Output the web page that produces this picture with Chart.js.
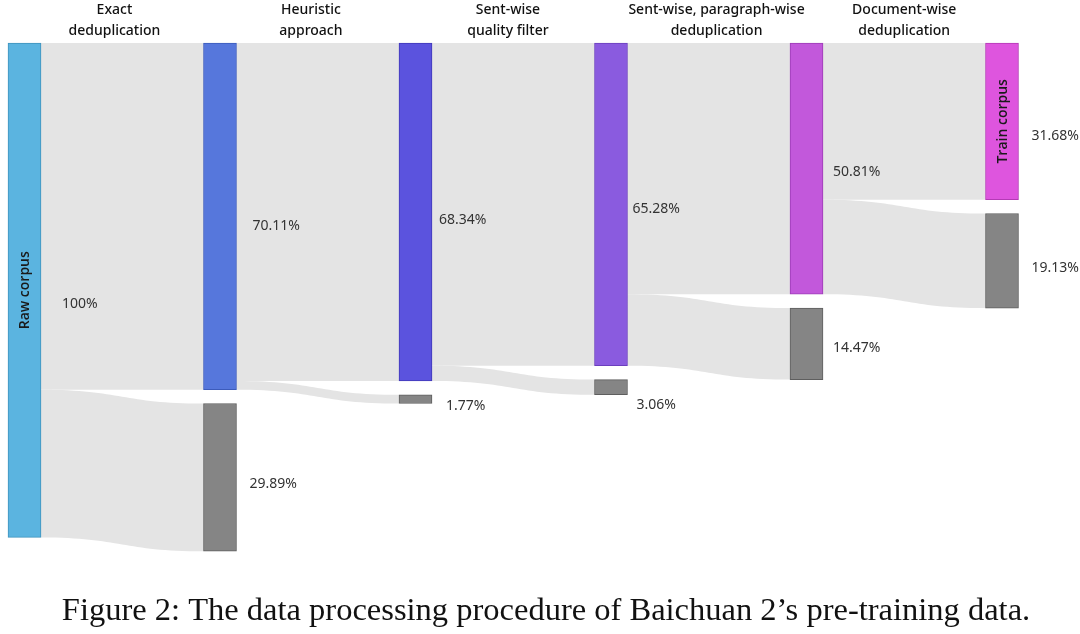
<!DOCTYPE html>
<html lang="en">
<head>
    <meta charset="UTF-8">
    <title>Baichuan 2 data processing - Sankey</title>
    <script src="https://cdn.jsdelivr.net/npm/chart.js"></script>
    <style>
        body { margin: 0; background: #ffffff; }
        #box { width: 1080px; height: 634px; position: relative; }
    </style>
</head>
<body>
    <div id="box"><canvas id="sankeyChart"></canvas></div>

    <script>
        // Data (share of raw corpus, %)
        const stageTitles = [
            ['Exact', 'deduplication'],
            ['Heuristic', 'approach'],
            ['Sent-wise', 'quality filter'],
            ['Sent-wise, paragraph-wise', 'deduplication'],
            ['Document-wise', 'deduplication']
        ];
        const keptNames = ['Raw corpus', '', '', '', '', 'Train corpus'];
        const keptShare = [100, 70.11, 68.34, 65.28, 50.81, 31.68];
        const removedShare = [null, 29.89, 1.77, 3.06, 14.47, 19.13];
        const caption = 'Figure 2: The data processing procedure of Baichuan 2\u2019s pre-training data.';

        // Styling / layout
        const keptColors = ['#5bb4e0', '#5677dc', '#5b53de', '#8a5bdf', '#c258db', '#de55de'];
        const keptBorders = ['#3f93bd', '#3c5bbb', '#4038b8', '#6b3fbd', '#9c3cb6', '#b43ab5'];
        const removedColor = '#858585';
        const removedBorder = '#5e5e5e';
        const flowColor = '#e4e4e4';
        const GAP = 2.8;          // gap between nodes of one column, in % units
        const HALF = 16.5;        // half node width, px
        const stageAt = [0.46, 1.465, 2.473, 3.54, 4.5];
        const keptDx = [21, 16, 7, 5, 10, 13];
        const keptDy = [14, 10, 8, 5, 3, 15];
        const removedDx = [0, 13, 14, 9, 10, 13];
        const removedDy = [0, 7, 7, 18, 4, 7];
        const labelFont = '14px "Noto Sans", sans-serif';

        const cols = keptShare.map((v, i) => i);
        const removedStart = cols.map(i => removedShare[i] == null ? null : keptShare[i] + GAP);

        const keptData = cols.map(i => ({ x: i, y: [0, keptShare[i]] }));
        const removedData = cols.filter(i => removedShare[i] != null)
            .map(i => ({ x: i, y: [removedStart[i], removedStart[i] + removedShare[i]] }));

        // links: [srcCol, srcFrom, srcTo, tgtCol, tgtFrom, tgtTo]
        const links = [];
        for (let i = 0; i < cols.length - 1; i++) {
            links.push([i, 0, keptShare[i + 1], i + 1, 0, keptShare[i + 1]]);
            links.push([i, keptShare[i + 1], keptShare[i], i + 1,
                removedStart[i + 1], removedStart[i + 1] + removedShare[i + 1]]);
        }

        const sankeyPlugin = {
            id: 'sankeyFlows',
            beforeDatasetsDraw(chart) {
                const { ctx, scales: { x, y } } = chart;
                ctx.save();
                ctx.fillStyle = flowColor;
                links.forEach(l => {
                    const x0 = x.getPixelForValue(l[0]) + HALF;
                    const x1 = x.getPixelForValue(l[3]) - HALF;
                    const xm = (x0 + x1) / 2;
                    const a0 = y.getPixelForValue(l[1]), b0 = y.getPixelForValue(l[2]);
                    const a1 = y.getPixelForValue(l[4]), b1 = y.getPixelForValue(l[5]);
                    ctx.beginPath();
                    ctx.moveTo(x0, a0);
                    ctx.bezierCurveTo(xm, a0, xm, a1, x1, a1);
                    ctx.lineTo(x1, b1);
                    ctx.bezierCurveTo(xm, b1, xm, b0, x0, b0);
                    ctx.closePath();
                    ctx.fill();
                });
                ctx.restore();
            },
            afterDatasetsDraw(chart) {
                const { ctx, scales: { x, y } } = chart;
                ctx.save();
                ctx.fillStyle = '#333333';
                ctx.font = labelFont;
                ctx.textBaseline = 'middle';
                ctx.textAlign = 'left';
                cols.forEach(i => {
                    const right = x.getPixelForValue(i) + HALF;
                    const yc = y.getPixelForValue(keptShare[i] / 2);
                    ctx.fillText(keptShare[i] + '%', right + keptDx[i], yc + keptDy[i]);
                    if (removedShare[i] != null) {
                        const yr = y.getPixelForValue(removedStart[i] + removedShare[i] / 2);
                        ctx.fillText(removedShare[i].toFixed(2) + '%', right + removedDx[i], yr + removedDy[i]);
                    }
                });
                // node names, rotated
                ctx.fillStyle = '#1a1a1a';
                ctx.font = '600 14px "Open Sans", sans-serif';
                ctx.textAlign = 'center';
                cols.forEach(i => {
                    if (!keptNames[i]) return;
                    ctx.save();
                    ctx.translate(x.getPixelForValue(i), y.getPixelForValue(keptShare[i] / 2));
                    ctx.rotate(-Math.PI / 2);
                    ctx.fillText(keptNames[i], 0, 1);
                    ctx.restore();
                });
                // stage titles
                ctx.fillStyle = '#111111';
                ctx.font = '500 14px "Noto Sans", sans-serif';
                stageTitles.forEach((t, k) => {
                    const px = x.getPixelForValue(stageAt[k]);
                    t.forEach((line, j) => ctx.fillText(line, px, 10 + j * 21));
                });
                ctx.restore();
            }
        };

        const ctx = document.getElementById('sankeyChart').getContext('2d');
        new Chart(ctx, {
            type: 'bar',
            data: {
                datasets: [
                    {
                        label: 'Kept',
                        data: keptData,
                        backgroundColor: keptColors,
                        borderColor: keptBorders,
                        borderWidth: 1,
                        borderSkipped: false,
                        barThickness: 33,
                        grouped: false,
                        clip: false
                    },
                    {
                        label: 'Removed',
                        data: removedData,
                        backgroundColor: removedColor,
                        borderColor: removedBorder,
                        borderWidth: 1,
                        borderSkipped: false,
                        barThickness: 33,
                        grouped: false,
                        clip: false
                    }
                ]
            },
            options: {
                responsive: true,
                maintainAspectRatio: false,
                animation: false,
                layout: { padding: { top: 43, left: 12, right: 0, bottom: 0 } },
                scales: {
                    x: { type: 'linear', min: -0.0639, max: 5.399, offset: false, display: false },
                    y: { type: 'linear', min: 0, max: 104.44, reverse: true, display: false }
                },
                plugins: {
                    legend: { display: false },
                    tooltip: { enabled: false },
                    title: {
                        display: true,
                        position: 'bottom',
                        text: caption,
                        color: '#111111',
                        font: { family: '"Liberation Serif", serif', size: 32.5, weight: 'normal' },
                        padding: { top: 32.8, bottom: 2.8 }
                    }
                }
            },
            plugins: [sankeyPlugin]
        });
    </script>
</body>
</html>
